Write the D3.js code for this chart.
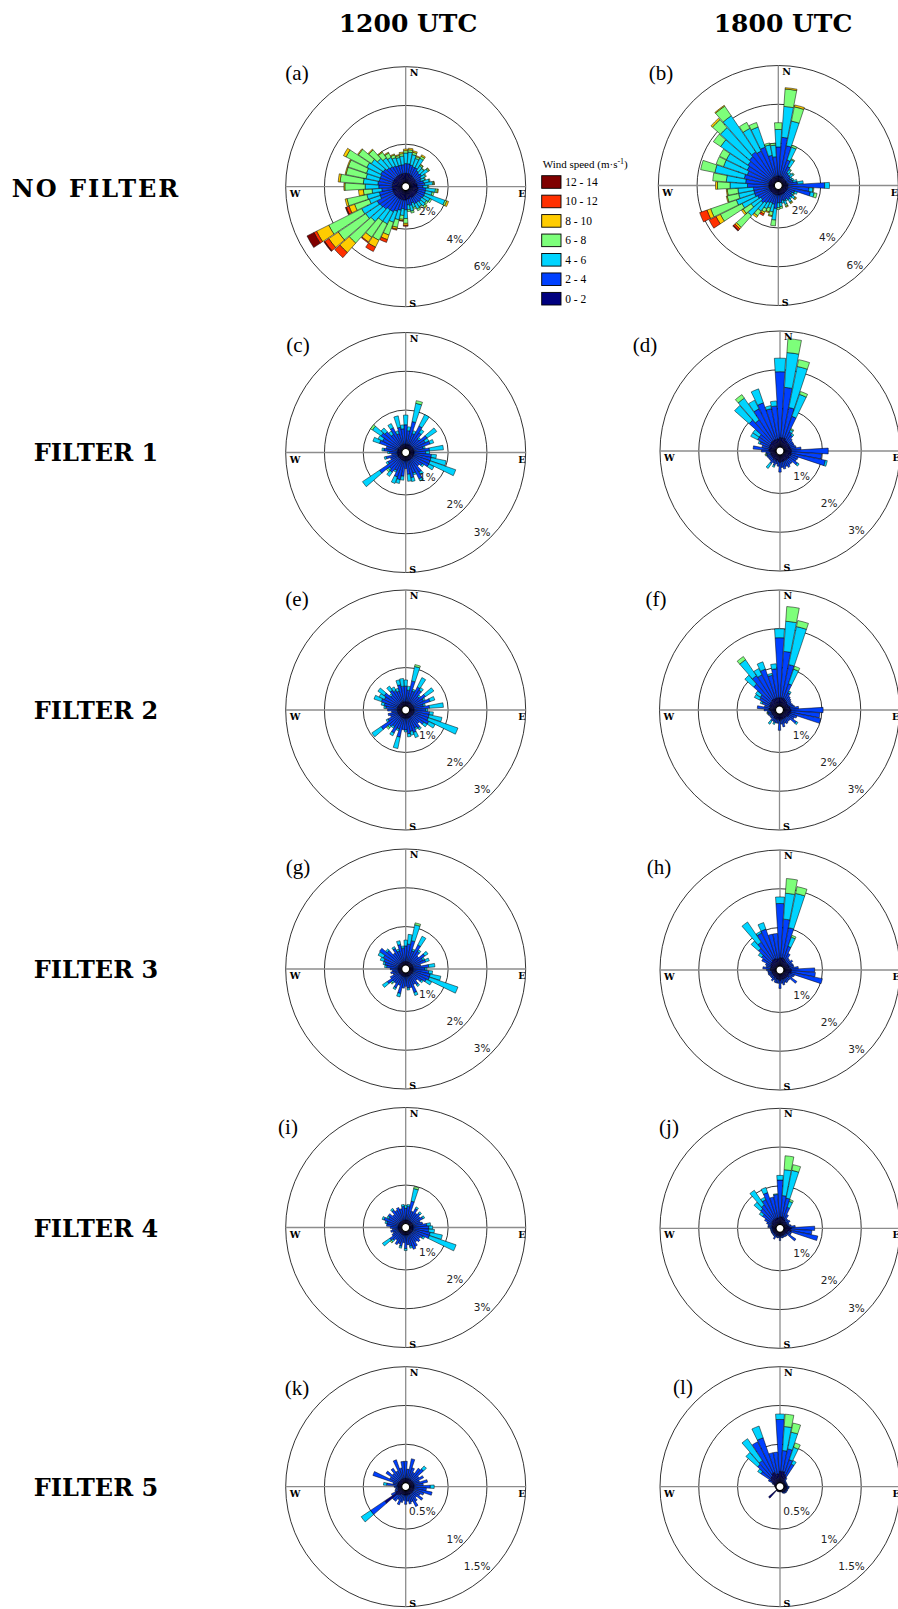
<!DOCTYPE html>
<html>
<head>
<meta charset="utf-8">
<script src="https://cdn.jsdelivr.net/npm/d3@7"></script>
<style>
  body { margin: 0; background: #fff; }
  svg { display: block; }
</style>
</head>
<body>
<script>
// Speed classes (m/s) and their colours
var speedBins = ["0 - 2", "2 - 4", "4 - 6", "6 - 8", "8 - 10", "10 - 12", "12 - 14"];
var speedColors = ["#00007f", "#0040ff", "#00d4ff", "#7dff7a", "#ffcc00", "#ff3000", "#7f0000"];

// 48 sectors of 7.5 deg, starting at North, going clockwise
var nSector = 48;

// Column / row headers
var columnTitles = ["1200 UTC", "1800 UTC"];
var rowTitles = ["NO FILTER", "FILTER 1", "FILTER 2", "FILTER 3", "FILTER 4", "FILTER 5"];
var panelLetters = ["(a)", "(b)", "(c)", "(d)", "(e)", "(f)", "(g)", "(h)", "(i)", "(j)", "(k)", "(l)"];

// Radial ticks (percent of time)
var ticksNoFilter = [2, 4, 6];
var ticksFilter = [1, 2, 3];
var ticksFilter5 = [0.5, 1, 1.5];

// Frequency (%) per sector, split by speed class
var roseA = [
  [0.5,0.5,0.55,0.12,0.08],[0.5,0.5,0.6,0.12,0.08],[0.5,0.45,0.55,0.12,0.08],[0.45,0.45,0.45,0.1,0.05],
  [0.45,0.45,0.55,0.12,0.08],[0.4,0.4,0.3,0.07,0.03],[0.4,0.35,0.3,0.05],[0.4,0.4,0.4,0.07,0.03],
  [0.4,0.3,0.25,0.05],[0.35,0.3,0.2,0.05],[0.4,0.35,0.3,0.05],[0.4,0.4,0.4,0.07,0.03],
  [0.4,0.3,0.25,0.05],[0.45,0.4,0.5,0.1,0.05],[0.45,0.4,0.35,0.1],[0.45,0.4,1.1,0.1,0.1],
  [0.45,0.4,0.35,0.1],[0.45,0.35,0.3,0.1],[0.45,0.4,0.3,0.1,0.05],[0.45,0.35,0.25,0.05],
  [0.45,0.35,0.3,0.1],[0.4,0.3,0.25,0.1],[0.45,0.35,0.3,0.1],[0.45,0.3,0.25,0.1],
  [0.5,0.5,0.45,0.25,0.1,0.05],[0.5,0.45,0.35,0.2,0.07,0.03],[0.5,0.55,0.5,0.4,0.1,0.05],[0.5,0.65,0.6,0.7,0.25,0.15],
  [0.5,0.75,0.7,0.95,0.4,0.25],[0.5,0.75,0.7,1.0,0.3,0.05],[0.5,0.85,0.85,1.5,0.65,0.35],[0.5,0.9,0.9,1.7,0.6,0.25,0.05],
  [0.5,0.95,0.9,1.9,0.7,0.15,0.4],[0.5,0.7,0.6,0.8,0.3,0.15,0.05],[0.5,0.7,0.65,1.05,0.1],[0.5,0.55,0.5,0.45,0.25],
  [0.5,0.7,0.7,1.05,0.05],[0.5,0.75,0.75,1.2,0.1],[0.5,0.7,0.7,1.05,0.05],[0.5,0.7,0.75,1.0,0.05],
  [0.5,0.75,0.8,1.2,0.15],[0.5,0.7,0.75,0.8,0.05],[0.5,0.6,0.65,0.6,0.05],[0.5,0.55,0.55,0.35,0.05],
  [0.5,0.5,0.5,0.25,0.05],[0.5,0.45,0.45,0.15,0.05],[0.5,0.45,0.4,0.1,0.05],[0.5,0.45,0.45,0.12,0.08]
];
var roseB = [
  [0.3,1.5,0.9,0.35],[0.3,2.0,1.6,0.9,0.07],[0.3,1.6,1.3,0.75,0.1],[0.3,0.9,0.7,0.1],
  [0.3,0.6,0.4,0.05],[0.25,0.35,0.2,0.05],[0.25,0.3,0.15],[0.25,0.3,0.2,0.05],
  [0.25,0.25,0.1],[0.25,0.3,0.1],[0.25,0.35,0.2],[0.3,0.5,0.3],
  [0.3,1.9,0.25],[0.3,1.1,0.2,0.05],[0.3,1.2,0.2,0.15],[0.3,0.4,0.15],
  [0.3,0.3,0.1,0.05],[0.3,0.4,0.15,0.05,0.05],[0.3,0.35,0.1],[0.3,0.4,0.15,0.05,0.05],
  [0.3,0.3,0.1],[0.3,0.35,0.2,0.1,0.05],[0.3,0.3,0.15],[0.3,0.4,0.2,0.1],
  [0.3,0.4,0.25,0.1],[0.3,0.7,0.6,0.3],[0.3,0.5,0.4,0.2,0.05],[0.3,0.45,0.3,0.2,0.05],
  [0.3,0.5,0.35,0.2,0.1,0.1],[0.3,0.6,0.5,0.3,0.1],[0.3,0.7,0.9,0.8,0.1,0.1,0.05],[0.3,0.6,0.6,0.5,0.1],
  [0.3,0.7,0.9,1.25,0.25,0.4],[0.3,0.8,1.0,1.4,0.2,0.4],[0.3,0.8,0.8,0.6,0.05],[0.3,0.8,0.8,0.55,0.05],
  [0.3,1.1,0.9,0.65,0.1],[0.3,1.2,1.0,0.7],[0.3,1.3,1.55,0.75],[0.3,1.2,1.3,0.4],
  [0.3,1.3,1.2,0.4],[0.3,1.4,1.7,0.45],[0.3,1.5,2.0,0.55,0.1],[0.3,1.6,2.25,0.6,0.05],
  [0.3,1.5,1.3,0.35],[0.3,1.6,1.1,0.25],[0.3,1.1,0.55,0.1],[0.3,1.0,0.6,0.1]
];
var roseC = [
  [0.12,0.5,0.25],[0.12,0.35,0.1],[0.12,0.6,0.48,0.07],[0.12,0.3,0.08],
  [0.12,0.55,0.33],[0.12,0.4,0.1],[0.12,0.25,0.05],[0.12,0.45,0.3],
  [0.12,0.35,0.1],[0.12,0.45,0.1],[0.12,0.25,0.05],[0.12,0.4,0.36],
  [0.12,0.3,0.1],[0.12,0.45,0.13],[0.12,0.45,0.4],[0.12,0.45,0.7],
  [0.12,0.45,0.15],[0.12,0.3,0.05],[0.12,0.25],[0.12,0.4,0.08],
  [0.12,0.55,0.06],[0.12,0.35,0.05],[0.12,0.45,0.1],[0.12,0.35,0.18],
  [0.12,0.2],[0.12,0.4,0.1],[0.12,0.5,0.1],[0.12,0.45,0.18],
  [0.12,0.3,0.05],[0.12,0.4,0.13],[0.12,0.35,0.05,0.05],[0.12,0.6,0.53],
  [0.12,0.3,0.05],[0.12,0.2],[0.12,0.3,0.05],[0.12,0.15],
  [0.12,0.2,0.05],[0.12,0.35,0.05],[0.12,0.3],[0.12,0.5,0.18],
  [0.12,0.45,0.13],[0.12,0.55,0.27,0.06],[0.12,0.5,0.13],[0.12,0.35,0.1],
  [0.12,0.5,0.12],[0.12,0.3,0.08],[0.12,0.45,0.3],[0.12,0.4,0.1]
];
var roseD = [
  [0.25,1.7,0.35],[0.25,1.3,0.9,0.36],[0.25,0.8,1.08,0.18],[0.25,0.6,0.6,0.08],
  [0.2,0.25,0.07,0.03],[0.2,0.2,0.05],[0.18,0.15],[0.18,0.12],
  [0.18,0.12],[0.18,0.12],[0.18,0.15],[0.2,0.25],
  [0.2,0.95],[0.2,0.78],[0.2,0.9,0.05],[0.2,0.2],
  [0.18,0.2],[0.2,0.25,0.05],[0.18,0.15],[0.18,0.15],
  [0.18,0.2],[0.18,0.15],[0.18,0.2],[0.18,0.15],
  [0.2,0.25],[0.18,0.12],[0.15,0.1],[0.18,0.12,0.05],
  [0.15,0.1],[0.18,0.12,0.15],[0.15,0.1],[0.15,0.1],
  [0.15,0.1],[0.15,0.12],[0.15,0.1,0.02,0.03],[0.15,0.12],
  [0.18,0.2],[0.2,0.4],[0.18,0.2],[0.2,0.25,0.05],
  [0.2,0.35,0.2],[0.2,0.35,0.2],[0.22,0.75,0.5],[0.22,0.65,0.68,0.11],
  [0.22,0.9,0.25],[0.22,1.0,0.38],[0.22,0.8,0.08],[0.22,0.85,0.13]
];
var roseE = [
  [0.12,0.4,0.16],[0.12,0.3,0.1],[0.12,0.55,0.38,0.05],[0.12,0.3,0.05],
  [0.12,0.45,0.27],[0.12,0.4,0.08],[0.12,0.25,0.05],[0.12,0.4,0.26],
  [0.12,0.3,0.05],[0.12,0.45,0.13],[0.12,0.25,0.05],[0.12,0.4,0.36],
  [0.12,0.3,0.05],[0.12,0.4,0.1],[0.12,0.4,0.34],[0.12,0.4,0.81],
  [0.12,0.45,0.18],[0.12,0.35,0.1],[0.12,0.25],[0.12,0.35,0.05],
  [0.12,0.3,0.05],[0.12,0.4,0.14],[0.12,0.35,0.1],[0.12,0.4,0.08],
  [0.12,0.3,0.05],[0.12,0.3],[0.12,0.5,0.3],[0.12,0.3,0.05],
  [0.12,0.45,0.08],[0.12,0.3,0.05],[0.12,0.35,0.05,0.05],[0.12,0.55,0.29],
  [0.12,0.3,0.05],[0.12,0.2],[0.12,0.25],[0.12,0.15],
  [0.12,0.25],[0.12,0.3,0.05],[0.12,0.35,0.08],[0.12,0.45,0.2],
  [0.12,0.4,0.15],[0.12,0.45,0.2],[0.12,0.3,0.05],[0.12,0.4,0.13],
  [0.12,0.35,0.1],[0.12,0.3,0.08],[0.12,0.45,0.13],[0.12,0.4,0.2]
];
var roseF = [
  [0.22,1.55,0.23],[0.22,1.2,0.78,0.38],[0.22,0.88,1.0,0.16],[0.22,0.4,0.4,0.08],
  [0.2,0.2,0.05],[0.18,0.15],[0.18,0.12],[0.15,0.12],
  [0.15,0.1],[0.15,0.12],[0.18,0.12],[0.18,0.22],
  [0.2,0.83],[0.2,0.75],[0.2,0.79],[0.18,0.2],
  [0.18,0.15],[0.18,0.25,0.05],[0.15,0.12],[0.15,0.12],
  [0.15,0.15],[0.15,0.12],[0.15,0.2],[0.15,0.12],
  [0.18,0.25],[0.15,0.1],[0.15,0.1],[0.15,0.1,0.05],
  [0.15,0.08],[0.15,0.1,0.1],[0.12,0.08],[0.12,0.08],
  [0.12,0.08],[0.12,0.1],[0.12,0.08,0.02,0.02],[0.12,0.1],
  [0.15,0.15],[0.18,0.3],[0.15,0.15],[0.18,0.2,0.05],
  [0.18,0.3,0.15],[0.2,0.3,0.15],[0.2,0.6,0.3],[0.22,0.75,0.5,0.1],
  [0.22,0.7,0.18],[0.22,0.8,0.2],[0.22,0.6,0.05],[0.22,0.75,0.13]
];
var roseG = [
  [0.1,0.4,0.15],[0.1,0.45,0.25],[0.1,0.55,0.42,0.05],[0.1,0.3,0.05],
  [0.1,0.5,0.25],[0.1,0.35,0.05],[0.1,0.25],[0.1,0.4,0.1],
  [0.1,0.3,0.05],[0.1,0.35,0.1],[0.1,0.2],[0.1,0.4,0.16],
  [0.1,0.3,0.05],[0.1,0.4,0.1],[0.1,0.45,0.28],[0.1,0.45,0.78],
  [0.1,0.4,0.15],[0.1,0.3,0.05],[0.1,0.2],[0.1,0.3,0.05],
  [0.1,0.25],[0.1,0.45,0.08],[0.1,0.3],[0.1,0.3,0.05],
  [0.1,0.25],[0.1,0.3],[0.1,0.45,0.09],[0.1,0.25],
  [0.1,0.35,0.05],[0.1,0.25],[0.1,0.25,0.05,0.03],[0.1,0.38,0.15],
  [0.1,0.25],[0.1,0.15],[0.1,0.2],[0.1,0.15],
  [0.1,0.2],[0.1,0.3,0.05],[0.1,0.35,0.05],[0.1,0.4,0.1],
  [0.1,0.45,0.15],[0.1,0.62],[0.1,0.45,0.05],[0.1,0.3],
  [0.1,0.4,0.05],[0.1,0.3,0.05],[0.1,0.45,0.1],[0.1,0.35,0.05]
];
var roseH = [
  [0.22,1.4,0.17],[0.22,1.0,0.67,0.38],[0.22,0.8,0.9,0.18],[0.2,0.35,0.25,0.05],
  [0.18,0.2],[0.15,0.12],[0.15,0.1],[0.15,0.15],
  [0.15,0.1],[0.15,0.12],[0.15,0.12],[0.18,0.2],
  [0.2,0.6],[0.2,0.62],[0.2,0.82],[0.15,0.15],
  [0.15,0.12],[0.18,0.25],[0.15,0.1],[0.15,0.1],
  [0.15,0.12],[0.15,0.1],[0.15,0.15],[0.15,0.1],
  [0.18,0.2],[0.15,0.1],[0.15,0.1],[0.15,0.1],
  [0.12,0.08],[0.15,0.1],[0.12,0.08],[0.12,0.08],
  [0.12,0.08],[0.12,0.1],[0.12,0.1],[0.12,0.1],
  [0.15,0.1],[0.15,0.2],[0.15,0.12],[0.15,0.15],
  [0.18,0.25],[0.18,0.3,0.1],[0.2,0.45,0.25],[0.22,0.55,0.63],
  [0.22,0.75,0.05],[0.22,0.8,0.18],[0.2,0.65],[0.2,0.65]
];
var roseI = [
  [0.1,0.3,0.08],[0.1,0.35,0.05],[0.1,0.5,0.33,0.05],[0.1,0.25],
  [0.1,0.35,0.05],[0.1,0.25],[0.1,0.3,0.05],[0.1,0.25],
  [0.1,0.3,0.05],[0.1,0.2],[0.1,0.25],[0.1,0.35,0.1],
  [0.1,0.4,0.1],[0.1,0.4,0.15],[0.1,0.45,0.32],[0.1,0.45,0.73],
  [0.1,0.3,0.05],[0.1,0.25],[0.1,0.3],[0.1,0.25],
  [0.1,0.35],[0.1,0.4],[0.1,0.3,0.05],[0.1,0.25],
  [0.1,0.35,0.05],[0.1,0.2],[0.1,0.3,0.05],[0.1,0.25],
  [0.1,0.3],[0.1,0.2],[0.1,0.25,0.05,0.04],[0.1,0.3,0.23],
  [0.1,0.2],[0.1,0.15],[0.1,0.2],[0.1,0.15],
  [0.1,0.2],[0.1,0.3],[0.1,0.3,0.05],[0.1,0.4,0.05],
  [0.1,0.3,0.05],[0.1,0.35],[0.1,0.25],[0.1,0.35,0.05],
  [0.1,0.3],[0.1,0.35],[0.1,0.3],[0.1,0.35,0.05]
];
var roseJ = [
  [0.2,0.95,0.12],[0.2,0.55,0.67,0.36],[0.2,0.5,0.73,0.15],[0.18,0.3,0.16,0.05],
  [0.15,0.15],[0.12,0.08],[0.12,0.08],[0.12,0.1],
  [0.1,0.06],[0.1,0.06],[0.12,0.08],[0.15,0.15],
  [0.2,0.6],[0.18,0.55],[0.2,0.7],[0.12,0.1],
  [0.12,0.1],[0.15,0.25],[0.1,0.06],[0.1,0.06],
  [0.1,0.05],[0.1,0.05],[0.1,0.06],[0.1,0.05],
  [0.12,0.1],[0.1,0.05],[0.1,0.06],[0.1,0.05],
  [0.12,0.1],[0.1,0.06],[0.1,0.05],[0.1,0.05],
  [0.1,0.05],[0.1,0.05],[0.1,0.05],[0.1,0.05],
  [0.1,0.06],[0.12,0.1],[0.12,0.1],[0.12,0.15],
  [0.15,0.2],[0.15,0.3,0.1],[0.18,0.4,0.22],[0.18,0.45,0.46],
  [0.18,0.55,0.07],[0.18,0.7,0.14],[0.18,0.55],[0.18,0.6,0.02]
];
var roseK = [
  [0.06,0.22],[0.06,0.12],[0.06,0.26],[0.06,0.15],
  [0.06,0.1],[0.06,0.18],[0.06,0.2,0.05],[0.06,0.1],
  [0.06,0.15],[0.06,0.08],[0.06,0.18],[0.06,0.12],
  [0.06,0.21,0.05],[0.06,0.16],[0.06,0.24],[0.06,0.14],
  [0.06,0.1],[0.06,0.16],[0.06,0.08],[0.06,0.12],
  [0.06,0.18],[0.06,0.1],[0.06,0.12],[0.06,0.08],
  [0.06,0.12],[0.06,0.07],[0.06,0.1],[0.06,0.14],
  [0.06,0.08],[0.08,0.1],[0.1,0.08],[0.28,0.22,0.145],
  [0.1,0.06],[0.06,0.04],[0.05,0.04],[0.05,0.03],
  [0.05,0.05],[0.06,0.14,0.04],[0.06,0.06],[0.06,0.34],
  [0.06,0.12],[0.06,0.2],[0.06,0.12],[0.06,0.18],
  [0.06,0.12],[0.06,0.26],[0.06,0.14],[0.06,0.22]
];
var roseL = [
  [0.15,0.67,0.07],[0.15,0.27,0.31,0.16],[0.15,0.3,0.22,0.12],[0.12,0.2,0.17,0.06],
  [0.1,0.18,0.05],[0.05,0.04],[0.04,0.02],[0.03,0.02],
  [0.03,0.02],[0.03,0.02],[0.03,0.02],[0.03,0.02],
  [0.04,0.03],[0.04,0.03],[0.04,0.02],[0.04,0.02],
  [0.04,0.02],[0.04,0.02],[0.04,0.02],[0.04,0.02],
  [0.03,0.02],[0.03,0.01],[0.02],[0.02],
  [0.02],[0.02],[0.02],[0.02],
  [0.02],[0.02],[0.15],[0.01],
  [0.01],[0.01],[0.01],[0.01],
  [0.02],[0.02],[0.03],[0.04,0.02],
  [0.06,0.06],[0.1,0.15,0.05],[0.12,0.22,0.2],[0.12,0.24,0.34],
  [0.15,0.45],[0.15,0.47,0.16],[0.12,0.28],[0.12,0.28]
];

// Size of the page
var w = 898;
var h = 1609;

// Polar geometry shared by all roses
var outerR = 120;
var holeR = 3.7;

// Panel layout: centre of rose and position of its letter
var panels = [
  { rows: roseA, ticks: ticksNoFilter, cx: 405.7, cy: 186.7, lx: 297, ly: 73 },
  { rows: roseB, ticks: ticksNoFilter, cx: 778.3, cy: 185.5, lx: 661, ly: 73 },
  { rows: roseC, ticks: ticksFilter, cx: 405.7, cy: 452.5, lx: 298, ly: 345 },
  { rows: roseD, ticks: ticksFilter, cx: 780, cy: 451, lx: 645, ly: 345 },
  { rows: roseE, ticks: ticksFilter, cx: 405.7, cy: 710, lx: 297, ly: 599 },
  { rows: roseF, ticks: ticksFilter, cx: 779.5, cy: 710, lx: 656, ly: 599 },
  { rows: roseG, ticks: ticksFilter, cx: 405.7, cy: 969, lx: 298, ly: 867 },
  { rows: roseH, ticks: ticksFilter, cx: 780, cy: 970, lx: 659, ly: 867 },
  { rows: roseI, ticks: ticksFilter, cx: 405.7, cy: 1227.5, lx: 288, ly: 1127 },
  { rows: roseJ, ticks: ticksFilter, cx: 780, cy: 1228.3, lx: 669, ly: 1127 },
  { rows: roseK, ticks: ticksFilter5, cx: 405.7, cy: 1486.7, lx: 297, ly: 1388 },
  { rows: roseL, ticks: ticksFilter5, cx: 780, cy: 1486.7, lx: 683, ly: 1387 }
];
var rowCenters = [188, 452, 710, 969, 1228, 1487];
var columnCenters = [408, 783];

// Create SVG element
var svg = d3.select("body")
  .append("svg")
  .attr("width", w)
  .attr("height", h);

// Column titles
svg.selectAll("text.coltitle")
  .data(columnTitles)
  .enter()
  .append("text")
  .attr("class", "coltitle")
  .attr("x", function(d, i) { return columnCenters[i]; })
  .attr("y", 31.5)
  .attr("text-anchor", "middle")
  .style("font-family", "'DejaVu Serif', serif")
  .style("font-weight", "bold")
  .style("font-size", "25px")
  .text(function(d) { return d; });

// Row titles
svg.selectAll("text.rowtitle")
  .data(rowTitles)
  .enter()
  .append("text")
  .attr("class", "rowtitle")
  .attr("x", 96)
  .attr("y", function(d, i) { return rowCenters[i] + 9; })
  .attr("text-anchor", "middle")
  .style("font-family", "'DejaVu Serif', serif")
  .style("font-weight", "bold")
  .style("font-size", "24px")
  .style("letter-spacing", function(d, i) { return i === 0 ? "2px" : "0px"; })
  .text(function(d) { return d; });

var arc = d3.arc();

panels.forEach(function(p, k) {
  var maxTick = p.ticks[p.ticks.length - 1];
  var r = d3.scaleLinear().domain([0, maxTick]).range([holeR, outerR]);
  var sector = 2 * Math.PI / nSector;
  var barW = sector * 0.93;

  var g = svg.append("g")
    .attr("transform", "translate(" + p.cx + "," + p.cy + ")");

  // Rings
  g.selectAll("circle.ring")
    .data(p.ticks)
    .enter()
    .append("circle")
    .attr("class", "ring")
    .attr("r", function(d) { return r(d); })
    .attr("fill", "none")
    .attr("stroke", "#000")
    .attr("stroke-width", 0.8);

  // N-S and E-W axes
  g.append("line")
    .attr("x1", 0).attr("y1", -outerR).attr("x2", 0).attr("y2", outerR)
    .attr("stroke", "#8c8c8c").attr("stroke-width", 1.3);
  g.append("line")
    .attr("x1", -outerR).attr("y1", 0).attr("x2", outerR).attr("y2", 0)
    .attr("stroke", "#8c8c8c").attr("stroke-width", 1.3);

  // Stacked segments
  var segs = [];
  p.rows.forEach(function(vals, i) {
    var a = i * sector;
    var cum = 0;
    vals.forEach(function(v, j) {
      segs.push({ lo: cum, hi: cum + v, a0: a - barW / 2, a1: a + barW / 2, bin: j });
      cum += v;
    });
  });

  g.selectAll("path.seg")
    .data(segs)
    .enter()
    .append("path")
    .attr("class", "seg")
    .attr("d", function(d) {
      return arc({ innerRadius: r(d.lo), outerRadius: r(d.hi), startAngle: d.a0, endAngle: d.a1 });
    })
    .attr("fill", function(d) { return speedColors[d.bin]; })
    .attr("stroke", "#000")
    .attr("stroke-width", 0.5);

  // Centre hole
  g.append("circle")
    .attr("r", 4)
    .attr("fill", "#fff")
    .attr("stroke", "#000")
    .attr("stroke-width", 1.2);

  // Percentage labels at the south-east of each ring
  g.selectAll("text.pct")
    .data(p.ticks)
    .enter()
    .append("text")
    .attr("class", "pct")
    .attr("x", function(d) { return r(d) * Math.SQRT1_2; })
    .attr("y", function(d) { return r(d) * Math.SQRT1_2 - 1.5; })
    .attr("text-anchor", "end")
    .style("font-family", "'DejaVu Sans', sans-serif")
    .style("font-size", "10.5px")
    .attr("fill", "#222")
    .text(function(d) { return d + "%"; });

  // Compass letters
  var compass = [
    { t: "N", x: 4, y: -111, a: "start" },
    { t: "S", x: 3.5, y: 120, a: "start" },
    { t: "W", x: -116, y: 10, a: "start" },
    { t: "E", x: 112.5, y: 10, a: "start" }
  ];
  g.selectAll("text.cmp")
    .data(compass)
    .enter()
    .append("text")
    .attr("class", "cmp")
    .attr("x", function(d) { return d.x; })
    .attr("y", function(d) { return d.y; })
    .attr("text-anchor", function(d) { return d.a; })
    .style("font-family", "'DejaVu Serif', serif")
    .style("font-weight", "bold")
    .style("font-size", "9.5px")
    .text(function(d) { return d.t; });

  // Panel letter
  svg.append("text")
    .attr("x", p.lx)
    .attr("y", p.ly)
    .attr("text-anchor", "middle")
    .attr("dominant-baseline", "central")
    .style("font-family", "'Liberation Serif', serif")
    .style("font-size", "21px")
    .text(panelLetters[k]);
});

// Legend next to panel (a)
var legend = svg.append("g").attr("transform", "translate(541.7,0)");
var title = legend.append("text")
  .attr("x", 1)
  .attr("y", 168)
  .style("font-family", "'Liberation Serif', serif")
  .style("font-size", "11px");
title.append("tspan").text("Wind speed (m\u00b7s");
title.append("tspan").attr("dy", -4).style("font-size", "8px").text("-1");
title.append("tspan").attr("dy", 4).text(")");

var legendRows = speedBins.slice().reverse();
var legendY = d3.scaleLinear().domain([0, legendRows.length - 1]).range([182, 298.7]);

legend.selectAll("rect")
  .data(legendRows)
  .enter()
  .append("rect")
  .attr("x", 0)
  .attr("y", function(d, i) { return legendY(i) - 6.3; })
  .attr("width", 19.3)
  .attr("height", 12.6)
  .attr("fill", function(d) { return speedColors[speedBins.indexOf(d)]; })
  .attr("stroke", "#000")
  .attr("stroke-width", 0.9);

legend.selectAll("text.lab")
  .data(legendRows)
  .enter()
  .append("text")
  .attr("class", "lab")
  .attr("x", 23.5)
  .attr("y", function(d, i) { return legendY(i) + 4; })
  .style("font-family", "'Liberation Serif', serif")
  .style("font-size", "11.5px")
  .text(function(d) { return d; });
</script>
</body>
</html>
